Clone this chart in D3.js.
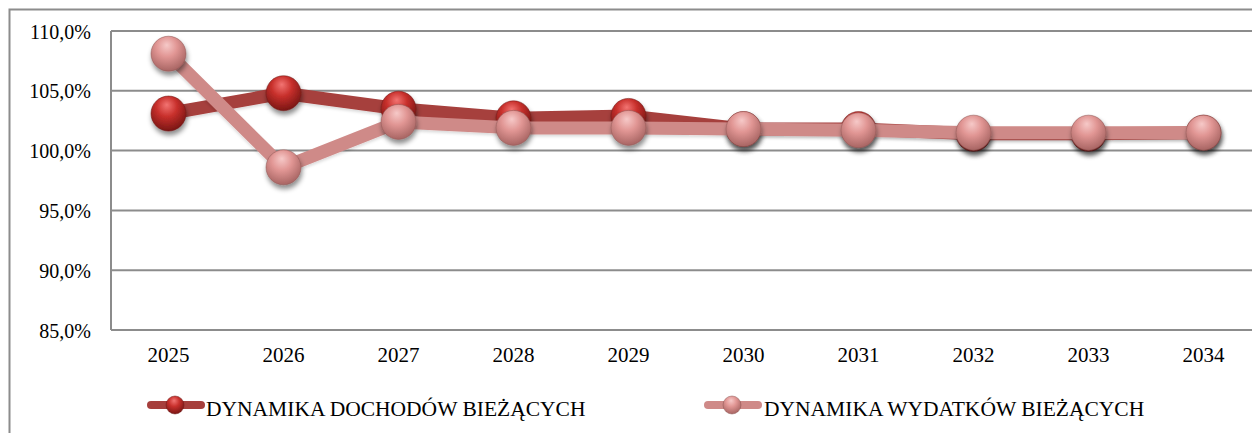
<!DOCTYPE html>
<html><head><meta charset="utf-8">
<script src="https://cdn.jsdelivr.net/npm/d3@7"></script>
<style>html,body{margin:0;padding:0;background:#fff;}svg{display:block;}
svg text{font-family:"Liberation Serif","Times New Roman",serif;}</style>
</head><body>
<script>
const years = ["2025","2026","2027","2028","2029","2030","2031","2032","2033","2034"];
const dochody = [103.1, 104.8, 103.5, 102.7, 102.9, 101.8, 101.8, 101.4, 101.4, 101.5];
const wydatki = [108.1, 98.6, 102.4, 101.9, 101.9, 101.8, 101.7, 101.5, 101.5, 101.5];
const yTicks = [85, 90, 95, 100, 105, 110];
const seriesNames = ["DYNAMIKA DOCHODÓW BIEŻĄCYCH", "DYNAMIKA WYDATKÓW BIEŻĄCYCH"];

(function () {
const W = 1252, H = 433;
const svg = d3.select("body").append("svg").attr("width", W).attr("height", H);
const defs = svg.append("defs");

function sphereGrad(id, light, mid, dark) {
  const g = defs.append("radialGradient").attr("id", id)
    .attr("cx", "45%").attr("cy", "35%").attr("r", "65%").attr("fx", "45%").attr("fy", "25%");
  g.append("stop").attr("offset", "0%").attr("stop-color", light);
  g.append("stop").attr("offset", "45%").attr("stop-color", mid);
  g.append("stop").attr("offset", "100%").attr("stop-color", dark);
}
sphereGrad("gDark", "#f27472", "#c8302c", "#7a1614");
sphereGrad("gPink", "#f6c9c8", "#e19694", "#a86563");

const f = defs.append("filter").attr("id", "shadow").attr("x", "-50%").attr("y", "-50%").attr("width", "200%").attr("height", "200%");
f.append("feDropShadow").attr("dx", 1).attr("dy", 4).attr("stdDeviation", 2.5).attr("flood-color", "#000").attr("flood-opacity", 0.45);
const fl = defs.append("filter").attr("id", "lshadow").attr("x", "-10%").attr("y", "-50%").attr("width", "120%").attr("height", "200%");
fl.append("feDropShadow").attr("dx", 0).attr("dy", 2).attr("stdDeviation", 1.5).attr("flood-color", "#000").attr("flood-opacity", 0.15);

// outer frame
svg.append("path").attr("d", `M9.5,${H} V9.5 H${W}`).attr("fill", "none").attr("stroke", "#8c8c8c").attr("stroke-width", 2);

const pLeft = 111, pTop = 31, pBottom = 330, step = 115;
const x = d3.scaleBand().domain(years).range([pLeft, pLeft + step * years.length]);
const y = d3.scaleLinear().domain([85, 110]).range([pBottom, pTop]);

// grid
svg.append("g").selectAll("line").data(yTicks).join("line")
  .attr("x1", pLeft).attr("x2", W).attr("y1", d => y(d)).attr("y2", d => y(d))
  .attr("stroke", "#8c8c8c").attr("stroke-width", 2);
svg.append("line").attr("x1", pLeft).attr("x2", pLeft).attr("y1", pTop).attr("y2", pBottom)
  .attr("stroke", "#8c8c8c").attr("stroke-width", 2);

const font = "Liberation Serif";
const fmt = d => d.toFixed(1).replace(".", ",") + "%";
const yAxis = d3.axisLeft(y).tickValues(yTicks).tickFormat(fmt).tickSize(0).tickPadding(20);
const ya = svg.append("g").attr("transform", `translate(${pLeft},0)`).call(yAxis)
  .attr("font-family", font).attr("font-size", 20);
ya.select(".domain").remove();
ya.selectAll("text").style("font-size", "20px").attr("fill", "#000").attr("dy", "0.35em");

const xAxis = d3.axisBottom(x).tickSize(0).tickPadding(17);
const xa = svg.append("g").attr("transform", `translate(0,${pBottom})`).call(xAxis)
  .attr("font-family", font).attr("font-size", 21);
xa.select(".domain").remove();
xa.selectAll("text").style("font-size", "21px").attr("fill", "#000");

const cx = d => x(d) + x.bandwidth() / 2;
const line = d3.line().x(d => cx(d.k)).y(d => y(d.v));

const series = [
  {name: seriesNames[0], vals: dochody, lc: "#a63f3c", grad: "url(#gDark)", stroke: "#6e1a18"},
  {name: seriesNames[1], vals: wydatki, lc: "#cf8a88", grad: "url(#gPink)", stroke: "#8e5553"}
];

series.forEach(s => {
  const pts = years.map((k, i) => ({k, v: s.vals[i]}));
  svg.append("path").datum(pts).attr("d", line).attr("fill", "none")
    .attr("stroke", s.lc).attr("stroke-width", 13).attr("stroke-linejoin", "round")
    .attr("filter", "url(#lshadow)");
  svg.append("g").selectAll("circle").data(pts).join("circle")
    .attr("cx", d => cx(d.k)).attr("cy", d => y(d.v)).attr("r", 17.5)
    .attr("fill", s.grad).attr("stroke", s.stroke).attr("stroke-opacity", 0.5).attr("stroke-width", 1)
    .attr("filter", "url(#shadow)");
});

// legend
const legY = 405;
const legX = [147, 704];
const legTextX = [206, 764];
series.forEach((s, i) => {
  const g = svg.append("g");
  g.append("line").attr("x1", legX[i] + 4).attr("x2", legX[i] + 54).attr("y1", legY).attr("y2", legY)
    .attr("stroke", s.lc).attr("stroke-width", 8).attr("stroke-linecap", "round");
  g.append("circle").attr("cx", legX[i] + 28).attr("cy", legY).attr("r", 9)
    .attr("fill", s.grad).attr("stroke", s.stroke).attr("stroke-opacity", 0.5);
  g.append("text").attr("x", legTextX[i]).attr("y", 416)
    .style("font-size", "21.5px").attr("fill", "#000").text(s.name);
});
})();
</script>
</body></html>
